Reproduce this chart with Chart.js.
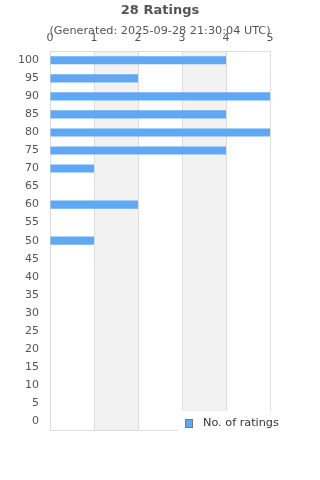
<!DOCTYPE html>
<html>
<head>
<meta charset="utf-8">
<script src="https://cdn.jsdelivr.net/npm/chart.js@4"></script>
<style>
    html, body { margin: 0; padding: 0; background: #fff; }
    #wrap { width: 320px; height: 480px; }
</style>
</head>
<body>
<div id="wrap"><canvas id="ratings-chart"></canvas></div>
<script>
const ratingLabels = ['100', '95', '90', '85', '80', '75', '70', '65', '60', '55', '50',
    '45', '40', '35', '30', '25', '20', '15', '10', '5', '0'];
const ratingCounts = [4, 2, 5, 4, 5, 4, 1, 0, 2, 0, 1, 0, 0, 0, 0, 0, 0, 0, 0, 0, 0];
const seriesName = 'No. of ratings';
const titleText = '28 Ratings';
const subtitleText = '(Generated: 2025-09-28 21:30:04 UTC)';

const barColor = '#60a8f4';
const gridColor = '#dddddd';
const textColor = '#555555';

Chart.defaults.font.family = '"DejaVu Sans", sans-serif';
Chart.defaults.font.size = 11;
Chart.defaults.color = textColor;

// grey stripes behind the bars (1-2 and 3-4)
const stripes = {
    id: 'stripes',
    beforeDraw(chart) {
        const c = chart.ctx, a = chart.chartArea, x = chart.scales.x;
        c.save();
        c.fillStyle = '#f2f2f2';
        [[1, 2], [3, 4]].forEach(function (s) {
            const x0 = x.getPixelForValue(s[0]), x1 = x.getPixelForValue(s[1]);
            c.fillRect(x0, a.top, x1 - x0, a.bottom - a.top);
        });
        c.restore();
    },
    beforeDatasetsDraw(chart) {
        const c = chart.ctx, a = chart.chartArea;
        c.save();
        c.strokeStyle = gridColor;
        c.lineWidth = 1;
        c.beginPath();
        c.moveTo(a.left, Math.round(a.bottom) + 0.5);
        c.lineTo(a.right, Math.round(a.bottom) + 0.5);
        c.stroke();
        c.restore();
    }
};

// legend box sitting over the bottom right corner
const cornerLegend = {
    id: 'cornerLegend',
    afterDraw(chart) {
        const c = chart.ctx;
        const ds = chart.data.datasets[0];
        c.save();
        c.fillStyle = '#fff';
        c.fillRect(178, 411, 142, 24);
        c.fillStyle = ds.backgroundColor;
        c.fillRect(185.5, 419.5, 7, 8);
        c.strokeStyle = '#777';
        c.lineWidth = 1;
        c.strokeRect(185.5, 419.5, 7, 8);
        c.fillStyle = '#333';
        c.font = '11.25px "DejaVu Sans", sans-serif';
        c.textBaseline = 'middle';
        c.fillText(ds.label, 203, 423.5);
        c.restore();
    }
};

new Chart(document.getElementById('ratings-chart'), {
    type: 'bar',
    data: {
        labels: ratingLabels,
        datasets: [{
            label: seriesName,
            data: ratingCounts,
            backgroundColor: barColor,
            borderWidth: 0,
            barPercentage: 0.45,
            categoryPercentage: 1
        }]
    },
    options: {
        indexAxis: 'y',
        responsive: true,
        maintainAspectRatio: false,
        animation: false,
        layout: {
            padding: { top: 0, left: 0, right: 0, bottom: 50 }
        },
        scales: {
            x: {
                position: 'top',
                min: 0,
                max: 5,
                grid: { color: gridColor, drawTicks: false },
                border: { color: gridColor },
                ticks: { stepSize: 1, padding: 6.4, color: textColor },
                afterFit: function (scale) { scale.height = 18; }
            },
            y: {
                grid: { display: false, drawTicks: false },
                border: { color: gridColor },
                ticks: { padding: 11, color: textColor, autoSkip: false },
                afterFit: function (scale) { scale.width = 50; }
            },
            // empty right-hand axis, only to keep room on the right
            yRight: {
                type: 'category',
                position: 'right',
                grid: { display: false, drawTicks: false },
                border: { display: false },
                ticks: { display: false },
                afterFit: function (scale) { scale.width = 50; }
            }
        },
        plugins: {
            legend: { display: false },
            tooltip: { enabled: false },
            title: {
                display: true,
                text: titleText,
                color: textColor,
                font: { size: 13, weight: 'bold' },
                padding: { top: 3, bottom: 4 }
            },
            subtitle: {
                display: true,
                text: subtitleText,
                color: textColor,
                font: { size: 11.25 },
                padding: { top: 2, bottom: -4.8 }
            }
        }
    },
    plugins: [stripes, cornerLegend]
});
</script>
</body>
</html>
